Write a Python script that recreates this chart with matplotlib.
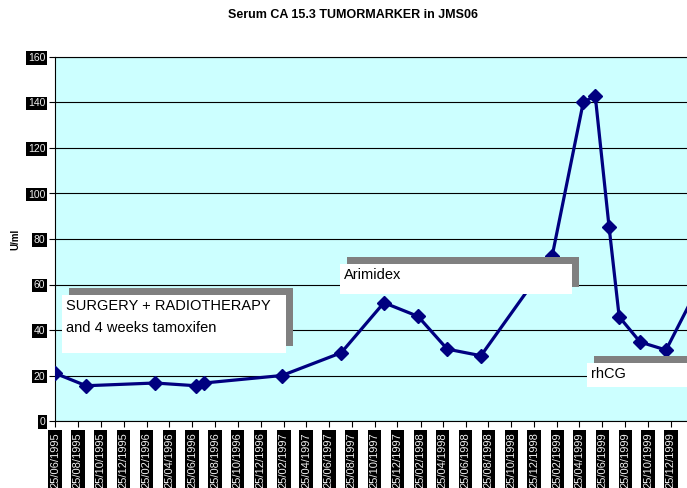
import datetime as dt
import matplotlib.pyplot as plt
import matplotlib.dates as mdates
from matplotlib.patches import Rectangle

plt.rcParams['font.family'] = ['Liberation Sans', 'DejaVu Sans']

# measurement dates and serum CA 15.3 values (U/ml)
dates = ["1995-06-25", "1995-09-16", "1996-03-18", "1996-07-05", "1996-07-27",
         "1997-02-20", "1997-07-28", "1997-11-19", "1998-02-18", "1998-05-07",
         "1998-08-05", "1999-02-11", "1999-05-05", "1999-06-06", "1999-07-13",
         "1999-08-09", "1999-10-04", "1999-12-12", "2000-02-24"]
values = [21, 15.5, 16.7, 15.5, 16.7,
          20, 30, 52, 46, 31.6,
          28.7, 72.5, 140, 143, 85.3,
          45.8, 34.7, 31.2, 55]

tick_labels = ["25/06/1995", "25/08/1995", "25/10/1995", "25/12/1995",
               "25/02/1996", "25/04/1996", "25/06/1996", "25/08/1996", "25/10/1996", "25/12/1996",
               "25/02/1997", "25/04/1997", "25/06/1997", "25/08/1997", "25/10/1997", "25/12/1997",
               "25/02/1998", "25/04/1998", "25/06/1998", "25/08/1998", "25/10/1998", "25/12/1998",
               "25/02/1999", "25/04/1999", "25/06/1999", "25/08/1999", "25/10/1999", "25/12/1999"]

W, H = 687, 488
fig = plt.figure(figsize=(W / 100, H / 100), dpi=100)
ax = fig.add_axes([55 / W, 67 / H, 1 - 55 / W, 364 / H])
ax.set_facecolor('#CCFFFF')

x = [dt.datetime.strptime(d, "%Y-%m-%d") for d in dates]
ax.plot(x, values, color='#000080', lw=2.3, marker='D', ms=7, clip_on=True, zorder=3)

ticks = [dt.datetime.strptime(t, "%d/%m/%Y") for t in tick_labels]
ax.set_xticks(ticks)
ax.set_xticklabels(tick_labels, rotation=90)
ax.set_xlim(dt.datetime(1995, 6, 25), dt.datetime(2000, 2, 6))
ax.set_ylim(0, 160)
ax.set_yticks(range(0, 161, 20))
ax.tick_params(axis='both', direction='out', length=4, width=0.8, colors='black')
ax.tick_params(axis='x', pad=4)
ax.tick_params(axis='y', pad=3)
for lbl in ax.get_xticklabels():
    lbl.set_color('#EEEEEE')
    lbl.set_fontsize(8)
    lbl.set_bbox(dict(boxstyle='square,pad=0.15', fc='black', ec='none'))
for lbl in ax.get_yticklabels():
    lbl.set_color('#EEEEEE')
    lbl.set_fontsize(7.5)
    lbl.set_bbox(dict(boxstyle='square,pad=0.15', fc='black', ec='none'))

ax.grid(axis='y', color='black', lw=0.8)
ax.set_axisbelow(True)
ax.spines['right'].set_visible(False)
for s in ['left', 'bottom', 'top']:
    ax.spines[s].set_linewidth(0.8)

ax.set_ylabel('U/ml', fontsize=7, fontweight='bold')
ax.yaxis.set_label_coords(-0.055, 0.5)

fig.text(353 / W, 1 - 15 / H, 'Serum CA 15.3 TUMORMARKER in JMS06',
         ha='center', va='center', fontsize=9, fontweight='bold')


def note_box(x0, y0, x1, y1, lines, off=7):
    # pixel coords (top-left origin) -> figure fraction
    sh = Rectangle(((x0 + off) / W, 1 - (y1 - off) / H), (x1 - x0) / W, (y1 - y0) / H,
                   transform=fig.transFigure, fc='#808080', ec='none', zorder=5)
    bx = Rectangle((x0 / W, 1 - y1 / H), (x1 - x0) / W, (y1 - y0) / H,
                   transform=fig.transFigure, fc='white', ec='none', zorder=6)
    fig.add_artist(sh)
    fig.add_artist(bx)
    for i, t in enumerate(lines):
        fig.text((x0 + 4) / W, 1 - (y0 + 11 + i * 22) / H, t, ha='left', va='center',
                 fontsize=10.5, zorder=7)


note_box(62, 295, 286, 353, ["SURGERY + RADIOTHERAPY", "and 4 weeks tamoxifen"])
note_box(340, 264, 572, 294, ["Arimidex"])
note_box(587, 363, 700, 387, ["rhCG"])

fig.savefig('out.png', dpi=100)
